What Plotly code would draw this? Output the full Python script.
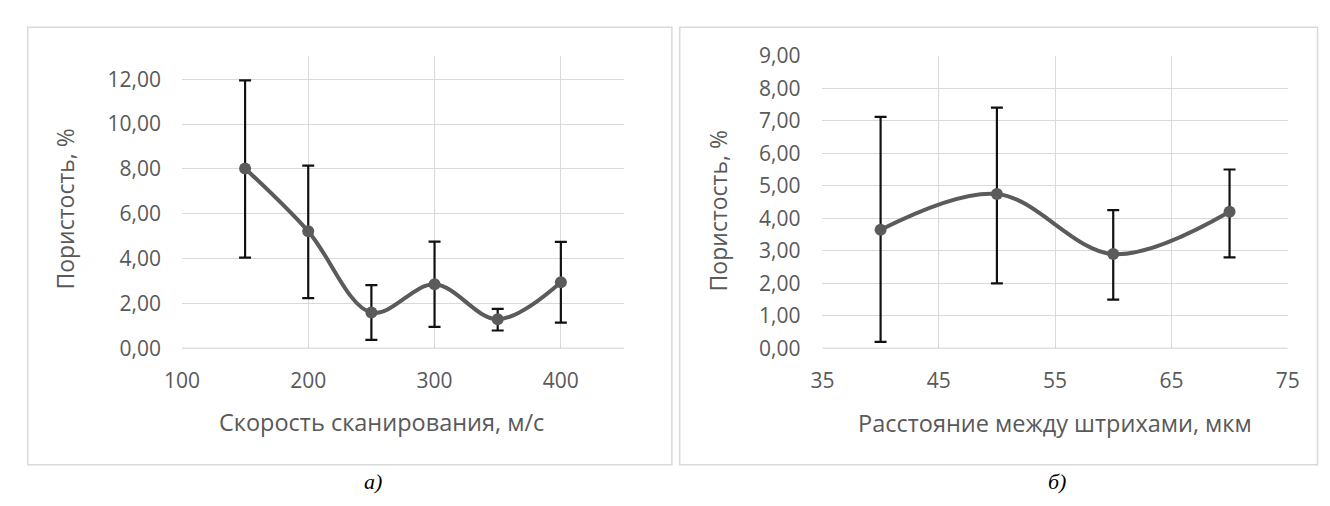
import plotly.graph_objects as go

# Panel a
speed = [150, 200, 250, 300, 350, 400]
por_a = [8.02, 5.22, 1.6, 2.86, 1.3, 2.95]
err_a_plus = [3.93, 2.93, 1.22, 1.9, 0.46, 1.8]
err_a_minus = [3.97, 2.98, 1.22, 1.9, 0.5, 1.8]

# Panel b
hatch = [40, 50, 60, 70]
por_b = [3.65, 4.75, 2.9, 4.2]
err_b_plus = [3.47, 2.65, 1.35, 1.3]
err_b_minus = [3.45, 2.75, 1.4, 1.4]

W, H = 1330, 506
def px(x): return x / W
def py(y): return 1 - y / H

LINE = "#5b5b5b"
TXT = "#595959"
GRID = "#d9d9d9"
FONT = "Open Sans"

fig = go.Figure()
for xs, ys, ep, em, xa, ya in [
    (speed, por_a, err_a_plus, err_a_minus, "x", "y"),
    (hatch, por_b, err_b_plus, err_b_minus, "x2", "y2"),
]:
    fig.add_trace(go.Scatter(
        x=xs, y=ys, mode="lines+markers", xaxis=xa, yaxis=ya,
        line=dict(color=LINE, width=4, shape="spline", smoothing=1.0),
        marker=dict(color=LINE, size=12),
        error_y=dict(type="data", array=ep, arrayminus=em, symmetric=False,
                     color="#111111", thickness=2.2, width=6),
        showlegend=False,
    ))

def ax(standoff):
    return dict(showgrid=True, gridcolor=GRID, gridwidth=1, zeroline=False,
                ticks="", tickfont=dict(family=FONT, size=21, color=TXT),
                showline=False, ticklabelstandoff=standoff)

fig.update_layout(
    width=W, height=H, margin=dict(l=0, r=0, t=0, b=0),
    paper_bgcolor="white", plot_bgcolor="white",
    separators=", ",
    xaxis=dict(domain=[px(167.7), px(620)], anchor="y", range=[100, 450],
               tickvals=[100, 200, 300, 400], **ax(18)),
    yaxis=dict(domain=[py(353), py(43)], anchor="x", range=[0, 13.05],
               tickvals=[0, 2, 4, 6, 8, 10, 12], tickformat=".2f", **ax(20)),
    xaxis2=dict(domain=[px(823), px(1299)], anchor="y2", range=[35, 75],
                tickvals=[35, 45, 55, 65, 75], **ax(18)),
    yaxis2=dict(domain=[py(353), py(43)], anchor="x2", range=[0, 9],
                tickvals=list(range(10)), tickformat=".2f", **ax(21)),
)

shapes = [
    dict(type="rect", xref="paper", yref="paper", x0=px(10), x1=px(669), y0=py(476), y1=py(13),
         line=dict(color="#d9d9d9", width=1.5)),
    dict(type="rect", xref="paper", yref="paper", x0=px(677), x1=px(1329.5), y0=py(476), y1=py(13),
         line=dict(color="#d9d9d9", width=1.5)),
    dict(type="line", xref="x", yref="y", x0=100, x1=450, y0=0, y1=0,
         line=dict(color="#bfbfbf", width=1.5)),
    dict(type="line", xref="x2", yref="y2", x0=35, x1=75, y0=0, y1=0,
         line=dict(color="#bfbfbf", width=1.5)),
]
fig.update_layout(shapes=shapes)

ann = [
    dict(text="Пористость, %", x=px(48), y=py(205), textangle=-90,
         font=dict(family=FONT, size=23, color=TXT)),
    dict(text="Пористость, %", x=px(716), y=py(207), textangle=-90,
         font=dict(family=FONT, size=23, color=TXT)),
    dict(text="Скорость сканирования, м/с", x=px(372), y=py(431),
         font=dict(family=FONT, size=23.5, color=TXT)),
    dict(text="Расстояние между штрихами, мкм", x=px(1061), y=py(432),
         font=dict(family=FONT, size=23.5, color=TXT)),
    dict(text="<i>а)</i>", x=px(363), y=py(494),
         font=dict(family="Liberation Serif", size=22, color="#000000")),
    dict(text="<i>б)</i>", x=px(1063), y=py(494),
         font=dict(family="Liberation Serif", size=22, color="#000000")),
]
for a in ann:
    a.update(xref="paper", yref="paper", showarrow=False, xanchor="center", yanchor="middle")
fig.update_layout(annotations=ann)

fig.write_html("out.html")
